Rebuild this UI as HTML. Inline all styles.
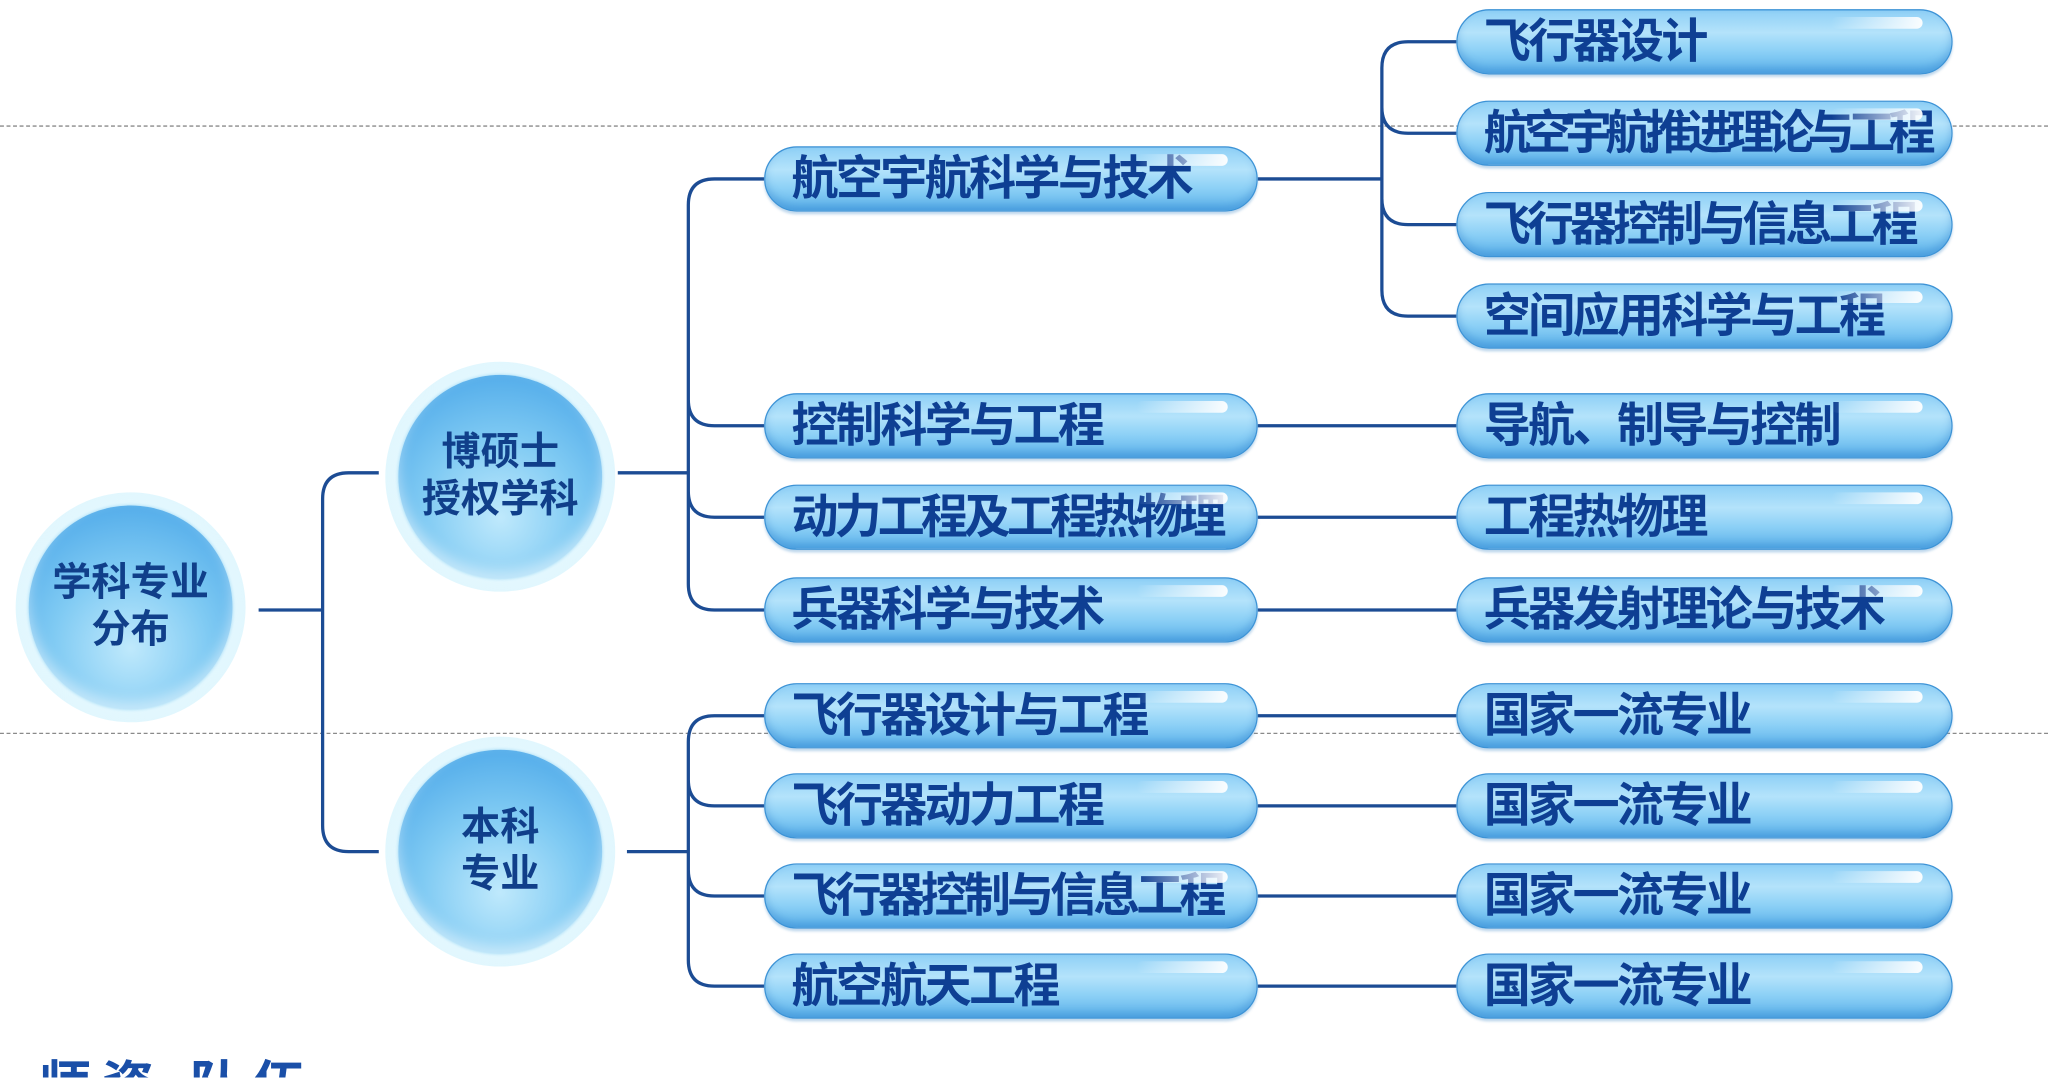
<!DOCTYPE html>
<html><head><meta charset="utf-8"><style>
html,body{margin:0;padding:0;background:#fff;width:2048px;height:1078px;overflow:hidden}
#s{position:absolute;left:0;top:0;width:1568px;height:825px;overflow:hidden;transform:scale(1.30612);transform-origin:0 0}
.dl{position:absolute;left:0;width:1568px;border-top:1px dashed #8a8a8a}
.p{position:absolute;height:50px;border-radius:25px;border:1.5px solid #3d93d6;box-sizing:border-box;
background:linear-gradient(#8fd0f6 0%,#b4e3fb 35%,#8cd0f6 65%,#5cb2ea 100%);
box-shadow:0 2px 2px rgba(70,140,200,.35), inset 0 -4px 6px rgba(40,120,200,.35)}
.p::after{content:"";position:absolute;right:22px;top:5px;width:70px;height:9px;border-radius:5px;background:linear-gradient(90deg,rgba(255,255,255,0),rgba(255,255,255,.95))}
.p span{position:absolute;left:20px;top:3px;font:bold 36px/42px "Liberation Sans","Noto Sans CJK SC",sans-serif;color:#0e3f93;white-space:nowrap;letter-spacing:-2px}
.c1{left:585px;width:378px}.c2{left:1115px;width:380px}
.ci{position:absolute;width:176px;height:176px;border-radius:50%;background:radial-gradient(circle,#e6f8fe 55%,rgba(200,240,252,.6) 80%,rgba(255,255,255,0) 100%)}
.ci div{position:absolute;left:10px;top:10px;width:156px;height:156px;border-radius:50%;
background:radial-gradient(circle at 50% 70%,#bfe9fc 0%,#7fcaf3 45%,#3f9fe6 100%);box-shadow:inset 0 -6px 10px rgba(255,255,255,.5),0 0 3px #9ad7f5;
display:flex;align-items:center;justify-content:center;text-align:center;font:bold 30px/36px "Liberation Sans","Noto Sans CJK SC",sans-serif;color:#103f8a}
</style></head><body><div id="s">
<div class="dl" style="top:96px"></div>
<div class="dl" style="top:561px"></div>
<svg width="1568" height="826" style="position:absolute;left:0;top:0" fill="none" stroke="#1c4c94" stroke-width="2.5">
<path d="M198 467H247M290 362H267Q247 362 247 382V632Q247 652 267 652H290"/>
<path d="M473 362H527M585 137H547Q527 137 527 157V447Q527 467 547 467H585M527 306Q527 326 547 326H585M527 376Q527 396 547 396H585"/>
<path d="M480 652H527M585 548H547Q527 548 527 568V735Q527 755 547 755H585M527 597Q527 617 547 617H585M527 666Q527 686 547 686H585"/>
<path d="M963 137H1058M1115 32H1078Q1058 32 1058 52V222Q1058 242 1078 242H1115M1058 82Q1058 102 1078 102H1115M1058 152Q1058 172 1078 172H1115"/>
<path d="M963 326H1115M963 396H1115M963 467H1115M963 548H1115M963 617H1115M963 686H1115M963 755H1115"/>
</svg>
<div class="ci" style="left:12px;top:377px"><div>学科专业<br>分布</div></div>
<div class="ci" style="left:295px;top:277px"><div>博硕士<br>授权学科</div></div>
<div class="ci" style="left:295px;top:564px"><div>本科<br>专业</div></div>
<div class="p c1" style="top:112px"><span>航空宇航科学与技术</span></div>
<div class="p c1" style="top:301px"><span>控制科学与工程</span></div>
<div class="p c1" style="top:371px"><span style="letter-spacing:-3px">动力工程及工程热物理</span></div>
<div class="p c1" style="top:442px"><span>兵器科学与技术</span></div>
<div class="p c1" style="top:523px"><span>飞行器设计与工程</span></div>
<div class="p c1" style="top:592px"><span>飞行器动力工程</span></div>
<div class="p c1" style="top:661px"><span style="letter-spacing:-3px">飞行器控制与信息工程</span></div>
<div class="p c1" style="top:730px"><span>航空航天工程</span></div>
<div class="p c2" style="top:7px"><span>飞行器设计</span></div>
<div class="p c2" style="top:77px"><span style="letter-spacing:-5px">航空宇航推进理论与工程</span></div>
<div class="p c2" style="top:147px"><span style="letter-spacing:-3px">飞行器控制与信息工程</span></div>
<div class="p c2" style="top:217px"><span>空间应用科学与工程</span></div>
<div class="p c2" style="top:301px"><span>导航、制导与控制</span></div>
<div class="p c2" style="top:371px"><span>工程热物理</span></div>
<div class="p c2" style="top:442px"><span>兵器发射理论与技术</span></div>
<div class="p c2" style="top:523px"><span>国家一流专业</span></div>
<div class="p c2" style="top:592px"><span>国家一流专业</span></div>
<div class="p c2" style="top:661px"><span>国家一流专业</span></div>
<div class="p c2" style="top:730px"><span>国家一流专业</span></div>
<div style="position:absolute;left:30px;top:812px;font:bold 40px/40px 'Liberation Sans','Noto Sans CJK SC',sans-serif;color:#1a4fa8;letter-spacing:8px">师资 队伍</div>
</div></body></html>
